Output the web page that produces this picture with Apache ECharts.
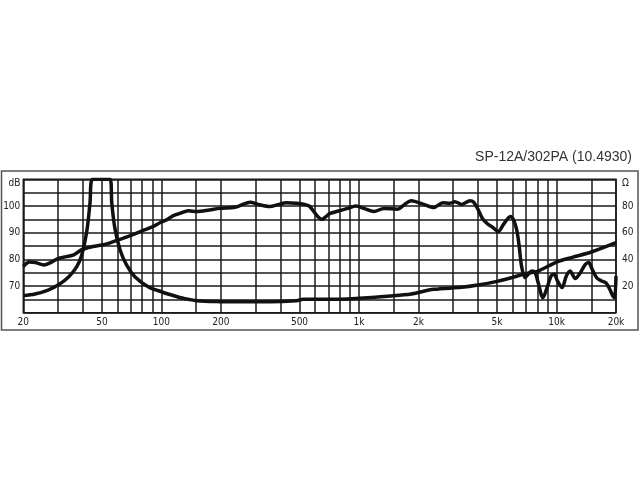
<!DOCTYPE html>
<html>
<head>
<meta charset="utf-8">
<script src="https://cdn.jsdelivr.net/npm/echarts@6/dist/echarts.min.js"></script>
<style>
  html, body { margin: 0; padding: 0; background: #fff; }
  #chart { width: 640px; height: 480px; }
</style>
</head>
<body>
<div id="chart"></div>
<script>
// frequency grid and labels (Hz)
const gridFreqs = [20, 30, 40, 50, 60, 70, 80, 90, 100, 150, 200, 300, 400, 500, 600, 700, 800, 900,
  1000, 1500, 2000, 3000, 4000, 5000, 6000, 7000, 8000, 9000, 10000, 15000, 20000];
const labelFreqs = [20, 50, 100, 200, 500, 1000, 2000, 5000, 10000, 20000];

// sound pressure level curve
const splFreq = [20, 21.5, 23, 25.5, 27.5, 30, 33, 36, 40, 45, 50, 55, 60, 67, 75, 82, 90, 100, 106, 115,
  124, 137, 151, 175, 198, 236, 255, 281, 309, 354, 389, 430, 483, 530, 560, 590, 620, 650, 680, 714,
  786, 880, 964, 1060, 1190, 1340, 1570, 1690, 1840, 2130, 2390, 2660, 2880, 3060, 3310, 3650, 3800,
  4000, 4240, 4510, 4770, 5070, 5390, 5840, 6040, 6280, 6470, 6650, 6920, 7190, 7480, 7770, 8090,
  8530, 8960, 9380, 9740, 10110, 10660, 11200, 11720, 12440, 13200, 14000, 14550, 15100, 15960,
  16910, 17770, 18600, 19300, 19690, 20000];
const splDb = [77.3, 79, 78.8, 77.9, 78.8, 80.3, 81, 81.7, 83.8, 84.8, 85.4, 86.2, 87.2, 88.4, 89.8, 91, 92.2, 94, 94.8, 96.4,
  97.2, 98.2, 97.9, 98.5, 99.1, 99.5, 100.4, 101.4, 100.6, 99.8, 100.5, 101.2, 101, 100.6, 100, 98, 96, 95, 96, 97.2,
  98.1, 99.1, 100, 99.1, 97.9, 99.1, 98.8, 100.4, 102, 100.6, 99.4, 101.2, 101, 101.6, 100.6, 102, 101.5,
  98.8, 95, 93.1, 91.9, 90.4, 93.1, 96.1, 95, 91.2, 85, 77.5, 73.2, 74.4, 75.6, 75.3, 71,
  65.6, 69.4, 73.7, 74.4, 71.9, 69.4, 73.7, 75.6, 72.8, 75, 78.1, 78.8, 76.5, 73.1,
  71.9, 71.2, 68.8, 66.2, 65.6, 73.7];

// impedance curve
const impFreq = [20, 22.9, 26.7, 30, 34, 37.3, 39.5, 42, 43.5, 44.8, 55, 56.1, 58.2, 61.8, 66.6, 73.4, 85.7, 100,
  117, 129, 151, 198, 243, 354, 483, 521, 697, 964, 1450, 1840, 2390, 3310, 4000, 5000, 6000, 7000, 8000,
  10000, 12000, 15000, 20000];
const impOhm = [12.8, 14, 17, 20.7, 27, 34.5, 43, 62, 82, 100, 100, 82, 63, 47, 35.8, 27, 19.5, 15.7,
  12.5, 10.8, 9, 8.3, 8.2, 8.2, 9, 10, 10, 10.7, 12.5, 14, 17.5, 19, 20.7, 23.5, 26.5, 29.3, 31,
  38, 41.5, 45.5, 52.5];

const lg = Math.log10;
const fmtFreq = v => {
  const f = Math.round(Math.pow(10, v));
  return f >= 1000 ? (f / 1000) + 'k' : String(f);
};
const pairs = (xs, ys) => xs.map((f, i) => [lg(f), ys[i]]);

const chart = echarts.init(document.getElementById('chart'));
const labelFont = { fontFamily: 'DejaVu Sans Condensed', fontSize: 10, color: '#222' };
const gridLine = { lineStyle: { color: '#1a1a1a', width: 1.5 } };

chart.setOption({
  animation: false,
  title: {
    text: 'SP-12A/302PA (10.4930)',
    right: 3,
    top: 145,
    textStyle: { fontFamily: 'Liberation Sans', fontSize: 14, fontWeight: 'normal', color: '#333' }
  },
  graphic: [{
    type: 'rect',
    shape: { x: 1.5, y: 171, width: 636.5, height: 159 },
    style: { fill: 'none', stroke: '#555', lineWidth: 1.5 }
  }],
  grid: { left: 23.3, right: 24, top: 179.3, bottom: 167.3, show: true, borderColor: '#1a1a1a', borderWidth: 1.5 },
  xAxis: {
    type: 'value',
    min: lg(20),
    max: lg(20000),
    axisLine: { show: false },
    axisTick: { show: false, customValues: gridFreqs.map(lg) },
    splitLine: Object.assign({ show: true }, gridLine),
    axisLabel: Object.assign({ customValues: labelFreqs.map(lg), formatter: fmtFreq, margin: 5 }, labelFont)
  },
  yAxis: [{
    type: 'value',
    min: 60,
    max: 110,
    interval: 5,
    axisLine: { show: false },
    axisTick: { show: false },
    splitLine: Object.assign({ show: true }, gridLine),
    axisLabel: Object.assign({
      margin: 3,
      formatter: v => v === 110 ? '{t|dB}' : (v % 10 === 0 && v > 60 ? String(v) : ''),
      rich: { t: { fontFamily: 'DejaVu Sans Condensed', fontSize: 10, color: '#222', padding: [8, 0, 0, 0] } }
    }, labelFont)
  }, {
    type: 'value',
    min: 0,
    max: 100,
    interval: 10,
    position: 'right',
    axisLine: { show: false },
    axisTick: { show: false },
    splitLine: { show: false },
    axisLabel: Object.assign({
      margin: 6,
      formatter: v => v === 100 ? '{t|Ω}' : (v % 20 === 0 && v > 0 ? String(v) : ''),
      rich: { t: { fontFamily: 'DejaVu Sans Condensed', fontSize: 10, color: '#222', padding: [8, 0, 0, 0] } }
    }, labelFont)
  }],
  series: [{
    name: 'SPL',
    type: 'line',
    yAxisIndex: 0,
    data: pairs(splFreq, splDb),
    showSymbol: false,
    smooth: 0.3,
    lineStyle: { color: '#111', width: 3.5 }
  }, {
    name: 'Impedance',
    type: 'line',
    yAxisIndex: 1,
    data: pairs(impFreq, impOhm),
    showSymbol: false,
    smooth: 0.3,
    lineStyle: { color: '#111', width: 3.5 }
  }]
});
</script>
</body>
</html>
